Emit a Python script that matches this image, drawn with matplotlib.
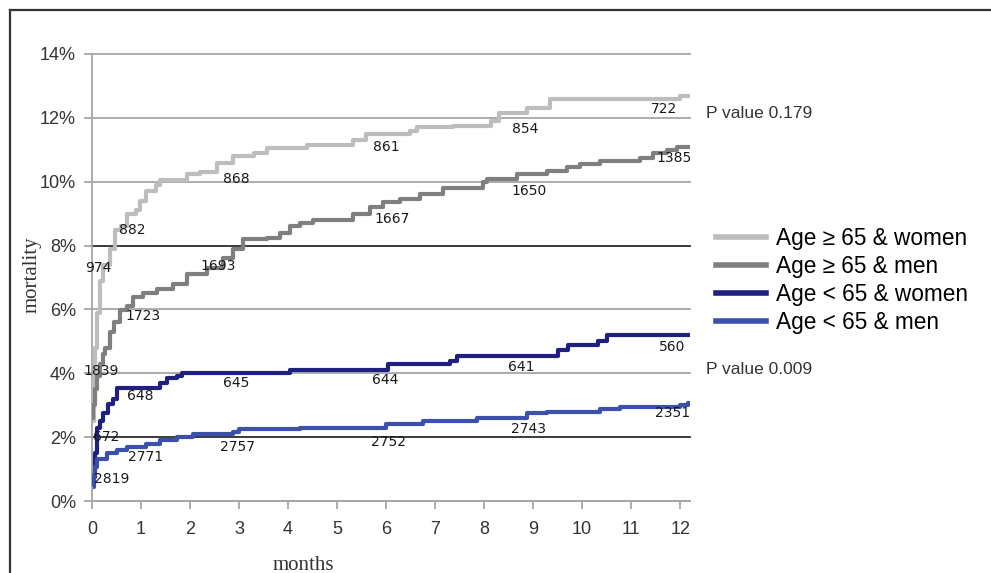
import matplotlib
matplotlib.use("Agg")
import matplotlib.pyplot as plt
from matplotlib.lines import Line2D

# mortality curves (months, %), steps-post
w65_x = [0.02, 0.04, 0.06, 0.1, 0.16, 0.22, 0.37, 0.47, 0.6, 0.71, 0.9, 0.98, 1.1, 1.3, 1.39, 1.93,
         2.2, 2.55, 2.88, 3.3, 3.57, 4.39, 5.33, 5.6, 6.49, 6.63, 7.37, 8.15, 8.3, 8.88, 9.35, 12.0, 12.2]
w65_y = [2.5, 3.8, 4.8, 5.9, 6.9, 7.4, 7.9, 8.5, 8.6, 9.0, 9.1, 9.4, 9.7, 9.9, 10.05, 10.25,
         10.3, 10.6, 10.8, 10.9, 11.05, 11.15, 11.3, 11.5, 11.6, 11.7, 11.75, 11.9, 12.15, 12.3, 12.6, 12.7, 12.7]

m65_x = [0, 0.03, 0.06, 0.1, 0.16, 0.22, 0.27, 0.37, 0.45, 0.57, 0.71, 0.84, 1.05, 1.33, 1.66, 1.93,
         2.35, 2.67, 2.88, 3.08, 3.57, 3.84, 4.04, 4.24, 4.5, 5.33, 5.67, 5.94, 6.29, 6.69, 7.16,
         7.98, 8.06, 8.67, 9.29, 9.69, 9.96, 10.37, 11.18, 11.45, 11.73, 11.94, 12.2]
m65_y = [2.6, 3.0, 3.5, 3.9, 4.3, 4.6, 4.8, 5.3, 5.6, 5.97, 6.1, 6.4, 6.5, 6.65, 6.8, 7.1,
         7.3, 7.6, 7.9, 8.2, 8.25, 8.4, 8.6, 8.7, 8.8, 9.0, 9.2, 9.35, 9.47, 9.6, 9.8,
         10.0, 10.1, 10.25, 10.35, 10.45, 10.55, 10.65, 10.75, 10.9, 11.0, 11.1, 11.1]

wy_x = [0.03, 0.06, 0.1, 0.16, 0.22, 0.33, 0.43, 0.5, 1.39, 1.53, 1.73, 1.83, 4.04, 6.04, 7.31, 7.45,
        9.51, 9.71, 10.33, 10.51, 12.2]
wy_y = [0.75, 1.5, 2.3, 2.5, 2.75, 3.05, 3.2, 3.55, 3.7, 3.85, 3.9, 4.0, 4.1, 4.3, 4.4, 4.55,
        4.72, 4.88, 5.0, 5.2, 5.2]

my_x = [0.02, 0.04, 0.06, 0.1, 0.3, 0.51, 0.71, 1.1, 1.39, 1.73, 2.06, 2.88, 3.0, 4.24, 6.0, 6.76,
        7.86, 8.88, 9.29, 10.37, 10.78, 12.0, 12.15, 12.2]
my_y = [0.45, 0.8, 1.05, 1.3, 1.5, 1.6, 1.7, 1.8, 1.9, 2.0, 2.1, 2.15, 2.27, 2.3, 2.42, 2.5,
        2.6, 2.75, 2.78, 2.88, 2.95, 3.0, 3.07, 3.07]

# numbers at risk: (month, %, label)
w65_n = [(0.12, 7.3, "974"), (0.82, 8.5, "882"), (2.95, 10.1, "868"), (6.0, 11.1, "861"),
         (8.84, 11.65, "854"), (11.67, 12.28, "722")]
m65_n = [(0.18, 4.06, "1839"), (1.04, 5.8, "1723"), (2.57, 7.37, "1693"), (6.12, 8.84, "1667"),
         (8.92, 9.72, "1650"), (11.88, 10.75, "1385")]
wy_n = [(0.28, 2.0, "672"), (0.98, 3.28, "648"), (2.94, 3.7, "645"), (5.98, 3.78, "644"),
        (8.76, 4.19, "641"), (11.84, 4.81, "560")]
my_n = [(0.41, 0.69, "2819"), (1.1, 1.37, "2771"), (2.96, 1.69, "2757"), (6.04, 1.84, "2752"),
        (8.9, 2.25, "2743"), (11.84, 2.75, "2351")]

labels = ["Age \u2265 65 & women", "Age \u2265 65 & men", "Age < 65 & women", "Age < 65 & men"]
colors = ["#bdbdbd", "#7f7f7f", "#1f2080", "#3a50aa"]

fig = plt.figure(figsize=(9.91, 5.73), dpi=100)
ax = fig.add_axes([92/991, 72/573, 598/991, 447/573])

for yv in range(0, 16, 2):
    c = "#2b2b2b" if yv in (2, 8) else "#a6a6a6"
    ax.axhline(yv, color=c, lw=1.3, zorder=1, clip_on=False)

series = [(w65_x, w65_y, w65_n), (m65_x, m65_y, m65_n), (wy_x, wy_y, wy_n), (my_x, my_y, my_n)]
for (xs, ys, nums), col in zip(series, colors):
    ax.plot(xs, ys, drawstyle="steps-post", color=col, lw=3, zorder=3, solid_capstyle="butt")
    for x, y, t in nums:
        ax.text(x, y, t, fontsize=10, ha="center", va="center", color="#1a1a1a", zorder=5)

ax.set_xlim(0, 12.2)
ax.set_ylim(0, 14)
ax.set_xticks(range(0, 13))
ax.set_yticks(range(0, 16, 2))
ax.set_yticklabels([f"{v}%" for v in range(0, 16, 2)])
for s in ["top", "right"]:
    ax.spines[s].set_visible(False)
for s in ["left", "bottom"]:
    ax.spines[s].set_color("#a6a6a6")
    ax.spines[s].set_linewidth(1.3)
ax.tick_params(direction="out", length=5.5, width=1.3, color="#a6a6a6",
               labelsize=13, labelcolor="#333333", pad=6)
for lab in ax.get_xticklabels() + ax.get_yticklabels():
    lab.set_fontfamily("Liberation Sans")
ax.tick_params(axis="x", pad=9)

fig.text(32/991, 1 - 275/573, "mortality", rotation=90, ha="center", va="center",
         family="Liberation Serif", fontsize=15, color="#333333")
fig.text(303/991, 1 - 565/573, "months", ha="center", va="center",
         family="Liberation Serif", fontsize=15, color="#333333")

fig.text(706/991, 1 - 113/573, "P value 0.179", ha="left", va="center",
         family="Liberation Sans", fontsize=12.5, color="#333333")
fig.text(706/991, 1 - 370/573, "P value 0.009", ha="left", va="center",
         family="Liberation Sans", fontsize=12.5, color="#333333")

handles = [Line2D([], [], color=c, lw=4) for c in colors]
leg = fig.legend(handles, labels, loc="upper left", bbox_to_anchor=(705/991, 1 - 216/573),
                 frameon=False, prop={"family": "Liberation Sans", "size": 16.3},
                 handlelength=2.2, handletextpad=0.45, labelspacing=0.21, borderpad=0)

# outer frame (top and left only)
fig.add_artist(Line2D([10/991, 1], [1 - 10/573, 1 - 10/573], color="#333333", lw=1.6))
fig.add_artist(Line2D([10/991, 10/991], [0, 1 - 10/573], color="#333333", lw=1.6))

fig.savefig("out.png", dpi=100)
